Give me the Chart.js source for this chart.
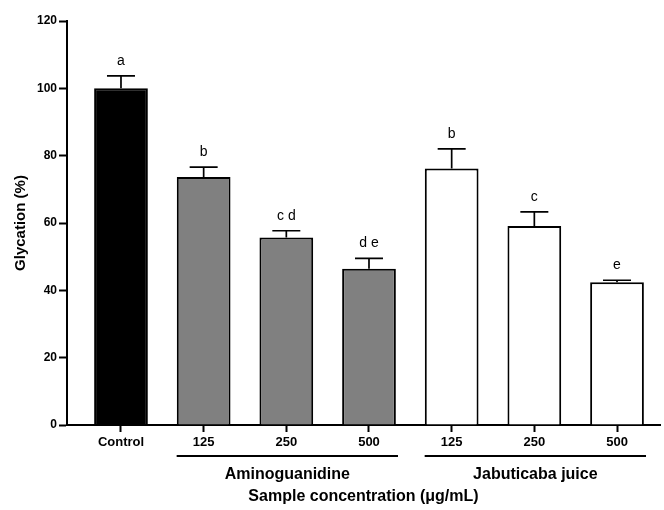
<!DOCTYPE html>
<html>
<head>
<meta charset="utf-8">
<script src="https://cdn.jsdelivr.net/npm/chart.js@4/dist/chart.umd.min.js"></script>
<style>
  html, body { margin: 0; padding: 0; background: #ffffff; }
  #wrap { width: 664px; height: 510px; }
</style>
</head>
<body>
<div id="wrap"><canvas id="c" width="664" height="510"></canvas></div>
<script>
// ---- data ----
const categories = ['Control', '125', '250', '500', '125', '250', '500'];
const means = [100, 73.7, 55.7, 46.4, 76.2, 59.1, 42.4];
const errors = [3.7, 2.9, 2.0, 3.1, 5.8, 4.2, 0.6];
const letters = ['a', 'b', 'c d', 'd e', 'b', 'c', 'e'];
const groupNames = ['Aminoguanidine', 'Jabuticaba juice'];
const groupStart = [1, 4];
const groupEnd = [3, 6];
const yTicks = [0, 20, 40, 60, 80, 100, 120];
const barColors = ['#000000', '#808080', '#808080', '#808080', '#ffffff', '#ffffff', '#ffffff'];

const FONT = "'Liberation Sans', Arial, Helvetica, sans-serif";

const overlay = {
  id: 'overlay',
  afterDatasetsDraw(chart) {
    const ctx = chart.ctx;
    const xs = chart.scales.x, ys = chart.scales.y;
    ctx.save();
    ctx.strokeStyle = '#000';
    ctx.fillStyle = '#000';
    means.forEach((m, i) => {
      const x = xs.getPixelForValue(i);
      const top = ys.getPixelForValue(m);
      const cap = ys.getPixelForValue(m + errors[i]);
      ctx.lineWidth = 1.7;
      ctx.beginPath();
      ctx.moveTo(x, top);
      ctx.lineTo(x, cap);
      ctx.moveTo(x - 14, cap);
      ctx.lineTo(x + 14, cap);
      ctx.stroke();
      ctx.font = '14px ' + FONT;
      ctx.textAlign = 'center';
      ctx.textBaseline = 'middle';
      ctx.fillText(letters[i], x, cap - 15);
    });
    // group brackets
    ctx.lineWidth = 2;
    groupNames.forEach((g, k) => {
      const x1 = xs.getPixelForValue(groupStart[k]) - 27;
      const x2 = xs.getPixelForValue(groupEnd[k]) + 29;
      ctx.beginPath();
      ctx.moveTo(x1, 456);
      ctx.lineTo(x2, 456);
      ctx.stroke();
      ctx.font = 'bold 16px ' + FONT;
      ctx.textAlign = 'center';
      ctx.textBaseline = 'middle';
      ctx.fillText(g, (x1 + x2) / 2, 475);
    });
    ctx.font = 'bold 16px ' + FONT;
    ctx.textAlign = 'center';
    ctx.textBaseline = 'middle';
    ctx.fillText('Sample concentration (\u03bcg/mL)', (chart.chartArea.left + chart.chartArea.right) / 2, 497);
    ctx.restore();
  }
};

new Chart(document.getElementById('c'), {
  type: 'bar',
  data: {
    datasets: [{
      data: means.map((m, i) => ({ x: i, y: m })),
      backgroundColor: barColors,
      borderColor: '#000000',
      borderWidth: 2,
      borderSkipped: 'bottom',
      barPercentage: 0.65,
      categoryPercentage: 1.0
    }]
  },
  options: {
    responsive: false,
    devicePixelRatio: 1,
    animation: false,
    layout: { padding: { top: 21, right: 4, left: 0, bottom: 0 } },
    plugins: { legend: { display: false }, tooltip: { enabled: false } },
    scales: {
      x: {
        type: 'linear',
        offset: false,
        min: -0.653,
        max: 6.52,
        afterBuildTicks(scale) { scale.ticks = categories.map((c, i) => ({ value: i })); },
        afterFit(scale) { scale.height = 85; },
        grid: { display: true, offset: false, drawOnChartArea: false, drawTicks: true, tickLength: 7, tickColor: '#000', tickWidth: 2, color: '#000' },
        border: { display: true, color: '#000', width: 2 },
        ticks: {
          autoSkip: false, maxRotation: 0, padding: 3, color: '#000',
          font: { family: FONT, size: 13, weight: 'bold' },
          callback: (v) => categories[v] !== undefined ? categories[v] : ''
        }
      },
      y: {
        min: 0,
        max: 120,
        afterBuildTicks(scale) { scale.ticks = yTicks.map(v => ({ value: v })); },
        afterFit(scale) { scale.width = 67; },
        grid: { display: true, drawOnChartArea: false, drawTicks: true, tickLength: 8, tickColor: '#000', tickWidth: 2, color: '#000' },
        border: { display: true, color: '#000', width: 2 },
        ticks: { padding: 2, color: '#000', font: { family: FONT, size: 12, weight: 'bold' } },
        title: { display: true, text: 'Glycation (%)', color: '#000', padding: { top: 12, bottom: 4 }, font: { family: FONT, size: 15, weight: 'bold' } }
      }
    }
  },
  plugins: [overlay]
});
</script>
</body>
</html>
